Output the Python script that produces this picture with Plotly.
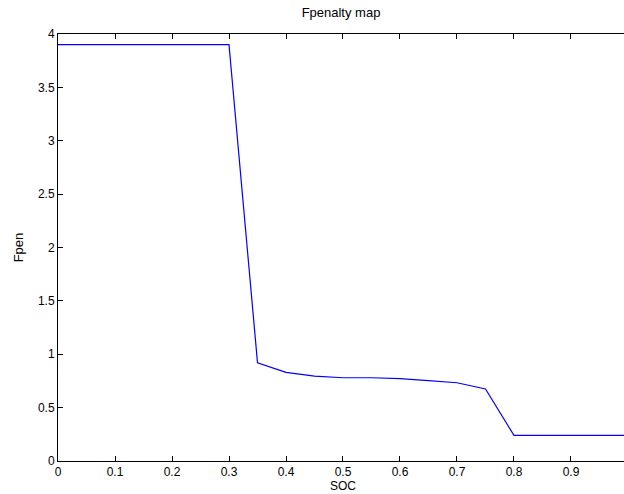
import plotly.graph_objects as go

# Penalty factor versus state of charge
soc = [0.0, 0.30, 0.35, 0.40, 0.45, 0.50, 0.55, 0.60, 0.65, 0.70, 0.75, 0.80, 1.0]
fpen = [3.9, 3.9, 0.92, 0.83, 0.795, 0.78, 0.78, 0.772, 0.752, 0.733, 0.675, 0.24, 0.24]

x_ticks = [0, 0.1, 0.2, 0.3, 0.4, 0.5, 0.6, 0.7, 0.8, 0.9]
y_ticks = [0, 0.5, 1, 1.5, 2, 2.5, 3, 3.5, 4]

font = dict(family="Liberation Sans, Arial, sans-serif", size=13, color="#000000")
small = dict(family="Liberation Sans, Arial, sans-serif", size=12, color="#000000")

fig = go.Figure()
fig.add_trace(go.Scatter(x=soc, y=fpen, mode="lines",
                         line=dict(color="#0000ff", width=1.2),
                         showlegend=False, hoverinfo="skip"))

# x-axis label sits just below the tick labels, centred on x = 0.5
fig.add_annotation(text="SOC", x=0.5, xref="x", y=0, yref="paper",
                   yanchor="bottom", yshift=-33, showarrow=False,
                   borderpad=0, font=small)

fig.update_layout(
    width=624, height=494,
    margin=dict(l=58, r=0, t=34, b=33),
    paper_bgcolor="white", plot_bgcolor="white",
    font=font,
    title=dict(text="Fpenalty map", x=0.5465, xanchor="center",
               y=1 - 12 / 494, yanchor="middle", font=font),
    xaxis=dict(range=[0, 0.993], tickvals=x_ticks,
               ticktext=[f"{v:g}" for v in x_ticks], tickfont=small,
               ticks="inside", ticklen=5, tickcolor="#000",
               showline=True, linecolor="#000", linewidth=1, mirror="ticks",
               showgrid=False, zeroline=False, ticklabelstandoff=0),
    yaxis=dict(range=[0, 4], tickvals=y_ticks,
               ticktext=[f"{v:g}" for v in y_ticks], tickfont=small,
               ticks="inside", ticklen=5, tickcolor="#000",
               showline=True, linecolor="#000", linewidth=1,
               showgrid=False, zeroline=False,
               title=dict(text="Fpen", standoff=11, font=font)),
)

fig.write_html("out.html")
